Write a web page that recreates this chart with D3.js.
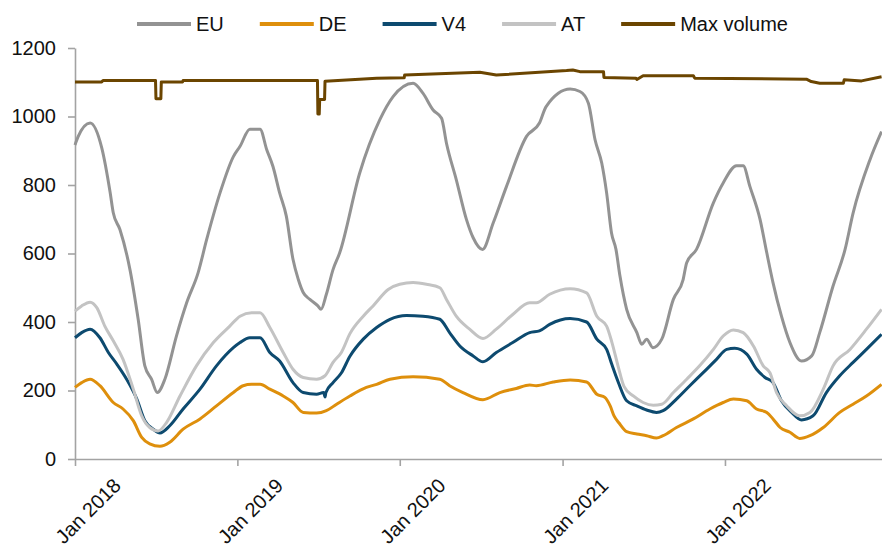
<!DOCTYPE html>
<html>
<head>
<meta charset="utf-8">
<script src="https://cdn.jsdelivr.net/npm/d3@7"></script>
<style>
  html, body { margin: 0; padding: 0; background: #fff; }
  svg { display: block; }
  text { font-family: "Liberation Sans", Arial, sans-serif; fill: #111; }
</style>
</head>
<body>
<svg id="chart" width="882" height="549"></svg>
<script>
// ---------- DATA ----------
const seriesNames = ["EU", "DE", "V4", "AT", "Max volume"];
const yTickValues = [0, 200, 400, 600, 800, 1000, 1200];
const xTickDates = ["2018-01-01", "2019-01-01", "2020-01-01", "2021-01-01", "2022-01-01"];

const euDates = ["2018-01-01","2018-01-08","2018-02-04","2018-03-02","2018-03-21","2018-03-28","2018-04-12","2018-05-05","2018-05-23","2018-06-07","2018-06-22","2018-07-05","2018-07-22","2018-08-17","2018-09-09","2018-10-05","2018-10-24","2018-11-23","2018-12-23","2019-01-07","2019-01-29","2019-02-21","2019-03-08","2019-03-22","2019-04-06","2019-04-21","2019-05-06","2019-05-18","2019-05-29","2019-06-13","2019-07-01","2019-07-08","2019-07-20","2019-08-04","2019-08-19","2019-10-03","2019-11-17","2019-12-17","2020-01-31","2020-02-22","2020-03-16","2020-04-04","2020-04-15","2020-05-07","2020-05-30","2020-06-14","2020-07-05","2020-07-29","2020-08-28","2020-10-12","2020-11-10","2020-11-25","2021-01-18","2021-02-09","2021-02-28","2021-03-15","2021-03-30","2021-04-10","2021-04-21","2021-05-01","2021-05-10","2021-05-25","2021-06-17","2021-06-28","2021-07-09","2021-07-23","2021-08-12","2021-09-07","2021-09-29","2021-10-07","2021-10-29","2021-12-06","2021-12-28","2022-01-27","2022-02-11","2022-02-26","2022-03-21","2022-04-05","2022-04-19","2022-05-08","2022-05-27","2022-06-22","2022-07-15","2022-08-02","2022-09-01","2022-09-28","2022-10-16","2022-11-23","2022-12-19"];
const euValues = [917,941,981,909,778,719,670,550,408,272,233,194,233,359,456,545,641,777,883,913,963,963,903,854,777,709,583,524,486,466,447,437,481,553,602,835,990,1058,1097,1068,1019,995,922,816,699,646,612,689,796,942,981,1029,1080,1073,1039,932,864,777,660,612,534,437,369,335,350,325,350,466,524,573,612,748,806,856,856,796,699,602,515,417,340,286,301,369,505,612,718,874,956];

const deDates = ["2018-01-01","2018-01-16","2018-02-04","2018-02-26","2018-03-28","2018-04-19","2018-05-12","2018-05-31","2018-06-18","2018-07-11","2018-08-02","2018-09-01","2018-10-09","2018-11-15","2018-12-23","2019-01-14","2019-02-02","2019-02-21","2019-03-15","2019-04-14","2019-05-06","2019-05-29","2019-06-28","2019-07-20","2019-08-12","2019-09-11","2019-10-18","2019-11-10","2019-12-10","2020-01-31","2020-03-31","2020-04-22","2020-05-22","2020-07-06","2020-08-13","2020-09-19","2020-10-19","2020-11-03","2020-12-11","2021-01-18","2021-02-24","2021-03-19","2021-04-06","2021-04-18","2021-04-27","2021-05-08","2021-05-25","2021-06-17","2021-07-09","2021-07-31","2021-08-15","2021-09-14","2021-10-22","2021-11-28","2021-12-28","2022-01-20","2022-02-19","2022-03-13","2022-04-05","2022-04-19","2022-05-05","2022-05-27","2022-06-18","2022-07-11","2022-08-10","2022-09-16","2022-10-16","2022-11-15","2022-12-19"];
const deValues = [209,223,233,214,165,146,112,63,44,37,49,87,117,155,194,214,218,218,204,184,165,136,134,141,160,184,209,218,233,240,233,214,194,173,194,206,216,214,225,231,225,189,180,155,125,105,80,73,68,61,68,92,117,146,165,175,170,146,136,117,92,78,60,68,92,136,160,184,218];

const v4Dates = ["2018-01-01","2018-01-16","2018-02-04","2018-02-26","2018-03-17","2018-04-05","2018-04-27","2018-05-20","2018-06-07","2018-06-26","2018-07-11","2018-08-02","2018-09-01","2018-10-09","2018-11-15","2018-12-23","2019-01-07","2019-01-29","2019-02-21","2019-03-15","2019-04-06","2019-05-06","2019-05-29","2019-06-28","2019-07-14","2019-07-17","2019-07-19","2019-08-04","2019-08-23","2019-09-11","2019-10-11","2019-11-10","2019-12-10","2020-01-16","2020-02-22","2020-03-31","2020-04-22","2020-05-15","2020-06-14","2020-07-06","2020-08-05","2020-09-11","2020-10-19","2020-11-10","2020-12-03","2021-01-18","2021-02-24","2021-03-19","2021-04-10","2021-04-22","2021-05-06","2021-05-25","2021-06-17","2021-07-09","2021-07-31","2021-08-15","2021-09-14","2021-10-14","2021-11-13","2021-12-13","2022-01-05","2022-01-23","2022-02-19","2022-03-13","2022-04-01","2022-04-19","2022-05-08","2022-05-31","2022-06-22","2022-07-18","2022-08-17","2022-09-16","2022-10-16","2022-11-15","2022-12-19"];
const v4Values = [354,369,379,354,311,277,233,175,112,87,76,97,146,204,272,325,340,354,354,311,286,223,194,189,194,181,194,223,252,300,350,384,408,419,417,408,369,330,301,284,311,340,369,374,393,410,400,350,320,275,225,170,155,143,136,141,175,214,252,291,320,323,306,262,238,223,170,136,114,126,194,243,282,320,364];

const atDates = ["2018-01-01","2018-01-16","2018-02-04","2018-02-19","2018-03-09","2018-03-28","2018-04-19","2018-05-12","2018-05-31","2018-06-18","2018-07-07","2018-07-26","2018-08-25","2018-10-01","2018-11-08","2018-12-15","2019-01-07","2019-02-02","2019-02-21","2019-03-15","2019-04-14","2019-05-06","2019-05-29","2019-06-28","2019-07-17","2019-08-04","2019-08-23","2019-09-11","2019-10-11","2019-11-02","2019-12-06","2020-01-01","2020-01-31","2020-03-01","2020-03-31","2020-04-15","2020-05-07","2020-06-06","2020-07-06","2020-08-05","2020-09-11","2020-10-19","2020-11-03","2020-12-03","2021-01-18","2021-02-24","2021-03-19","2021-04-10","2021-04-22","2021-05-06","2021-05-19","2021-06-09","2021-07-01","2021-07-24","2021-08-12","2021-09-07","2021-10-07","2021-11-05","2021-12-06","2021-12-28","2022-01-20","2022-02-11","2022-03-06","2022-03-28","2022-04-12","2022-04-27","2022-05-20","2022-06-18","2022-07-11","2022-08-10","2022-09-01","2022-10-09","2022-11-15","2022-12-19"];
const atValues = [432,447,458,442,388,345,291,204,126,92,82,107,184,272,340,388,417,427,427,384,311,262,238,233,243,282,312,366,417,447,495,510,515,510,500,466,417,379,352,379,422,456,456,481,497,485,417,388,340,270,212,184,165,157,160,194,233,272,320,359,377,369,330,272,252,194,155,126,136,204,272,320,379,437];

const maxDates = ["2018-01-01","2018-03-02","2018-03-05","2018-07-01","2018-07-02","2018-07-13","2018-07-14","2018-08-31","2018-09-01","2019-06-30","2019-07-01","2019-07-04","2019-07-05","2019-07-16","2019-07-17","2019-11-10","2020-01-11","2020-01-12","2020-06-29","2020-08-05","2021-01-10","2021-01-24","2021-02-09","2021-04-03","2021-04-04","2021-06-15","2021-06-17","2021-07-01","2021-10-22","2021-10-25","2022-07-03","2022-07-14","2022-08-02","2022-09-24","2022-09-26","2022-11-04","2022-12-19"];
const maxValues = [1101,1101,1105,1105,1052,1052,1101,1101,1105,1105,1007,1007,1050,1050,1103,1112,1113,1121,1129,1121,1134,1136,1131,1131,1114,1112,1108,1119,1119,1112,1109,1102,1097,1097,1107,1104,1116];

const seriesColors = ["#939393", "#de8f0c", "#0d4a6f", "#c3c3c3", "#6b4500"];

// ---------- BUILD ----------
const parse = d3.timeParse("%Y-%m-%d");
const zipSeries = (ds, vs) => ds.map((d, i) => ({ date: parse(d), value: vs[i] }));
const series = [
  zipSeries(euDates, euValues),
  zipSeries(deDates, deValues),
  zipSeries(v4Dates, v4Values),
  zipSeries(atDates, atValues),
  zipSeries(maxDates, maxValues)
];

const svg = d3.select("#chart");
const x = d3.scaleTime()
  .domain([parse("2018-01-01"), parse("2022-12-20")])
  .range([75, 882]);
const y = d3.scaleLinear().domain([0, 1200]).range([459, 48]);

const axisColor = "#a3a3a3";

// Y axis
const yAxis = svg.append("g")
  .attr("transform", "translate(75,0)")
  .call(d3.axisLeft(y).tickValues(yTickValues).tickFormat(d3.format("d"))
    .tickSize(7).tickSizeOuter(0).tickPadding(12));
yAxis.select(".domain").attr("stroke", axisColor).attr("stroke-width", 1.6);
yAxis.selectAll(".tick line").attr("stroke", axisColor).attr("stroke-width", 1.6);
yAxis.selectAll(".tick text")
  .attr("font-size", 20)
  .attr("font-family", "'Liberation Sans', Arial, sans-serif")
  .attr("fill", "#111");

// X axis
const xTicks = xTickDates.map(parse);
const xAxis = svg.append("g")
  .attr("transform", "translate(0,459)")
  .call(d3.axisBottom(x).tickValues(xTicks).tickSize(7).tickSizeOuter(0).tickFormat(""));
xAxis.select(".domain").attr("stroke", axisColor).attr("stroke-width", 1.6);
xAxis.selectAll(".tick line").attr("stroke", axisColor).attr("stroke-width", 1.6);

const fmt = d3.timeFormat("Jan %Y");
svg.append("g").selectAll("text")
  .data(xTicks)
  .join("text")
  .attr("x", d => x(d) + 13)
  .attr("y", 511)
  .attr("text-anchor", "middle")
  .attr("dominant-baseline", "central")
  .attr("font-size", 20)
  .attr("transform", d => `rotate(-45, ${x(d) + 13}, 511)`)
  .text(d => fmt(d));

// Lines
const lineGen = d3.line()
  .x(d => x(d.date))
  .y(d => y(d.value));
const smoothLine = d3.line()
  .x(d => x(d.date))
  .y(d => y(d.value))
  .curve(d3.curveMonotoneX);

series.forEach((s, i) => {
  svg.append("path")
    .datum(s)
    .attr("fill", "none")
    .attr("stroke", seriesColors[i])
    .attr("stroke-width", 3)
    .attr("stroke-linejoin", "round")
    .attr("d", i === 4 ? lineGen : smoothLine);
});

// Legend
const legend = svg.append("g");
let lx = 137;
seriesNames.forEach((name, i) => {
  legend.append("line")
    .attr("x1", lx).attr("x2", lx + 54)
    .attr("y1", 24).attr("y2", 24)
    .attr("stroke", seriesColors[i])
    .attr("stroke-width", 4);
  const t = legend.append("text")
    .attr("x", lx + 59)
    .attr("y", 24)
    .attr("dominant-baseline", "central")
    .attr("font-size", 20)
    .text(name);
  lx = lx + 59 + t.node().getComputedTextLength() + 36;
});
</script>
</body>
</html>
